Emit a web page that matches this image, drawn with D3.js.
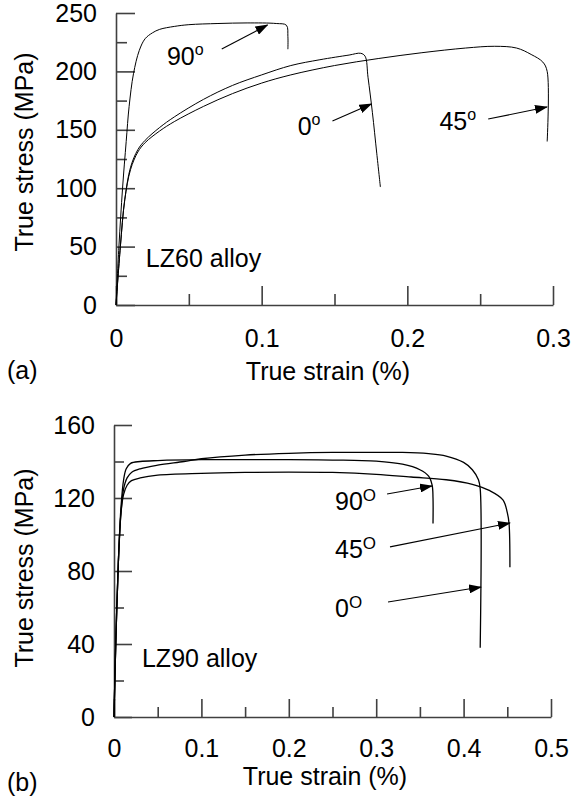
<!DOCTYPE html>
<html>
<head>
<meta charset="utf-8">
<script src="https://cdn.jsdelivr.net/npm/d3@7"></script>
<style>
  body { margin: 0; background: #fff; }
  text { font-family: "Liberation Sans", Arial, sans-serif; fill: #000; }
</style>
</head>
<body>
<div id="chart-container"></div>
<script>
// ---- data (strain, stress MPa) ----
// (a) LZ60 alloy
const lz60_0deg = [[0,0],[0.003,50],[0.006,90],[0.01,118],[0.015,133],[0.02,141],[0.03,152],[0.04,161],
    [0.06,176],[0.08,188],[0.1,197],[0.12,205],[0.14,210],[0.16,214],[0.168,215.5],[0.171,213],
    [0.173,195],[0.176,165],[0.179,130],[0.1815,101]];
const lz60_45deg = [[0,0],[0.003,50],[0.006,90],[0.01,116],[0.015,131],[0.02,139],[0.03,149],[0.04,157],
    [0.06,170],[0.08,181],[0.1,190],[0.12,197],[0.15,205],[0.18,211],[0.21,216],[0.24,220],
    [0.26,221.5],[0.275,220],[0.285,214.5],[0.293,208],[0.296,200],[0.296,140]];
const lz60_90deg = [[0,0],[0.002,50],[0.0045,100],[0.007,140],[0.009,170],[0.012,198],[0.016,218],
    [0.02,228],[0.025,233],[0.03,236],[0.04,238.5],[0.05,240],[0.07,241],[0.09,241.5],[0.11,241],
    [0.117,239.5],[0.118,230],[0.118,219]];

// (b) LZ90 alloy
const lz90_0deg = [[0,0],[0.002,40],[0.005,85],[0.008,112],[0.011,125],[0.015,131],[0.02,134],[0.03,136],
    [0.05,138],[0.08,140],[0.1,141.5],[0.15,143.5],[0.2,144.5],[0.25,145],[0.3,145],[0.33,145],
    [0.36,144.3],[0.38,143],[0.4,139.5],[0.41,135.5],[0.417,130],[0.419,125],[0.419,38]];
const lz90_45deg = [[0,0],[0.002,40],[0.005,85],[0.008,112],[0.011,122],[0.015,127],[0.02,129.5],[0.03,131],
    [0.05,132.5],[0.1,133.5],[0.15,134],[0.2,134.2],[0.25,134],[0.3,133],[0.34,131.5],[0.38,130],
    [0.41,127.5],[0.43,124],[0.445,119],[0.45,112],[0.452,106],[0.453,82]];
const lz90_90deg = [[0,0],[0.002,40],[0.005,85],[0.008,115],[0.011,130],[0.014,136],[0.019,139],[0.03,140],
    [0.05,140.5],[0.1,141],[0.2,141],[0.25,140.8],[0.3,140.2],[0.33,138.5],[0.35,135.5],[0.36,132],
    [0.364,127],[0.365,120],[0.365,106]];

// tick values
const lz60StressTicks = [0, 50, 100, 150, 200, 250];
const lz60StressMinor = [25, 75, 125, 175, 225];
const lz60StrainTicks = [0, 0.1, 0.2, 0.3];
const lz60StrainMinor = [0.05, 0.15, 0.25];
const lz90StressTicks = [0, 40, 80, 120, 160];
const lz90StressMinor = [20, 60, 100, 140];
const lz90StrainTicks = [0, 0.1, 0.2, 0.3, 0.4, 0.5];
const lz90StrainMinor = [0.05, 0.15, 0.25, 0.35, 0.45];

// annotations: label, text anchor (strain, stress), arrow from -> to
const lz60Notes = [
    { label: "90", sup: "o", at: [0.035, 205.5], from: [0.0726, 219.2], to: [0.104, 239.7] },
    { label: "0",  sup: "o", at: [0.1247, 145.5], from: [0.1486, 157.5], to: [0.1753, 172.1] },
    { label: "45", sup: "o", at: [0.222, 149.8], from: [0.2555, 159.2], to: [0.2959, 169.5] }
];
const lz90Notes = [
    { label: "90", sup: "O", at: [0.2529, 113.4], from: [0.3124, 122.2], to: [0.3638, 126.6] },
    { label: "45", sup: "O", at: [0.2529, 87.1],  from: [0.3158, 93.2],  to: [0.4531, 106.3] },
    { label: "0",  sup: "O", at: [0.2529, 54.8],  from: [0.3135, 63.0],  to: [0.4199, 71.2] }
];

const width = 571, height = 803;
const fontSize = "25px";
const svg = d3.select("#chart-container").append("svg")
    .attr("width", width)
    .attr("height", height);

svg.append("defs").append("marker")
    .attr("id", "head")
    .attr("markerUnits", "userSpaceOnUse")
    .attr("viewBox", "0 0 13 9")
    .attr("markerWidth", 13)
    .attr("markerHeight", 9)
    .attr("refX", 12)
    .attr("refY", 4.5)
    .attr("orient", "auto")
    .append("path")
    .attr("d", "M0,0 L13,4.5 L0,9 z")
    .attr("fill", "#000");

function drawPanel(cfg) {
    const x = d3.scaleLinear().domain(cfg.xDomain).range(cfg.xRange);
    const y = d3.scaleLinear().domain(cfg.yDomain).range(cfg.yRange);
    const g = svg.append("g");

    // minor ticks first (no labels)
    g.append("g")
        .attr("transform", `translate(${cfg.xRange[0]},0)`)
        .call(d3.axisLeft(y).tickValues(cfg.yMinor).tickSize(-cfg.minorLen).tickSizeOuter(0).tickFormat(""))
        .call(a => a.select(".domain").remove());
    g.append("g")
        .attr("transform", `translate(0,${cfg.yRange[0]})`)
        .call(d3.axisBottom(x).tickValues(cfg.xMinor).tickSize(-cfg.minorLen).tickSizeOuter(0).tickFormat(""))
        .call(a => a.select(".domain").remove());

    g.append("g")
        .attr("transform", `translate(${cfg.xRange[0]},0)`)
        .call(d3.axisLeft(y).tickValues(cfg.yTicks).tickSize(-cfg.majorLen).tickSizeOuter(0)
            .tickPadding(cfg.yPad).tickFormat(d3.format("d")));
    g.append("g")
        .attr("transform", `translate(0,${cfg.yRange[0]})`)
        .call(d3.axisBottom(x).tickValues(cfg.xTicks).tickSize(-cfg.majorLen).tickSizeOuter(0)
            .tickPadding(cfg.xPad).tickFormat(d => d === 0 ? "0" : d3.format(".1f")(d)));

    g.selectAll(".tick text").style("font-size", fontSize).attr("font-family", null);
    g.selectAll(".domain, .tick line").attr("stroke", "#404040").attr("stroke-width", 1.6);

    // curves
    const line = d3.line()
        .x(d => x(d[0]))
        .y(d => y(d[1]))
        .curve(d3.curveCatmullRom.alpha(0.5));
    g.selectAll("path.curve")
        .data(cfg.curves)
        .join("path")
        .attr("class", "curve")
        .attr("d", line)
        .attr("fill", "none")
        .attr("stroke", "#000")
        .attr("stroke-width", cfg.curveWidth);

    // annotations
    cfg.notes.forEach(n => {
        g.append("line")
            .attr("x1", x(n.from[0])).attr("y1", y(n.from[1]))
            .attr("x2", x(n.to[0])).attr("y2", y(n.to[1]))
            .attr("stroke", "#000")
            .attr("stroke-width", 1.1)
            .attr("marker-end", "url(#head)");
        const t = g.append("text")
            .attr("x", x(n.at[0]))
            .attr("y", y(n.at[1]))
            .style("font-size", fontSize)
            .text(n.label);
        t.append("tspan")
            .attr("dy", cfg.supDy)
            .style("font-size", cfg.supSize)
            .text(n.sup);
    });

    g.append("text")
        .attr("x", x(cfg.alloyAt[0]))
        .attr("y", y(cfg.alloyAt[1]))
        .style("font-size", fontSize)
        .text(cfg.alloy);

    // axis titles
    g.append("text")
        .attr("x", cfg.xTitle[0])
        .attr("y", cfg.xTitle[1])
        .attr("text-anchor", "middle")
        .style("font-size", fontSize)
        .text("True strain (%)");
    g.append("text")
        .attr("transform", `translate(${cfg.yTitle[0]},${cfg.yTitle[1]}) rotate(-90)`)
        .attr("text-anchor", "middle")
        .style("font-size", fontSize)
        .text("True stress (MPa)");
    g.append("text")
        .attr("x", cfg.tag[0])
        .attr("y", cfg.tag[1])
        .style("font-size", fontSize)
        .text(cfg.tagText);
}

drawPanel({
    xDomain: [0, 0.3], xRange: [116, 553],
    yDomain: [0, 250], yRange: [305, 13],
    yTicks: lz60StressTicks, yMinor: lz60StressMinor,
    xTicks: lz60StrainTicks, xMinor: lz60StrainMinor,
    majorLen: 19, minorLen: 11, yPad: 19, xPad: 24,
    curves: [lz60_0deg, lz60_45deg, lz60_90deg], curveWidth: 1,
    notes: lz60Notes, supDy: -10, supSize: "16px",
    alloy: "LZ60 alloy", alloyAt: [0.0205, 32.5],
    xTitle: [328, 380], yTitle: [33, 152],
    tag: [7, 379], tagText: "(a)"
});

drawPanel({
    xDomain: [0, 0.5], xRange: [114, 551],
    yDomain: [0, 160], yRange: [717, 425],
    yTicks: lz90StressTicks, yMinor: lz90StressMinor,
    xTicks: lz90StrainTicks, xMinor: lz90StrainMinor,
    majorLen: 18, minorLen: 10, yPad: 19, xPad: 22,
    curves: [lz90_0deg, lz90_45deg, lz90_90deg], curveWidth: 1.3,
    notes: lz90Notes, supDy: -9, supSize: "17px",
    alloy: "LZ90 alloy", alloyAt: [0.032, 27.4],
    xTitle: [325, 785], yTitle: [33, 568],
    tag: [7, 791], tagText: "(b)"
});
</script>
</body>
</html>
